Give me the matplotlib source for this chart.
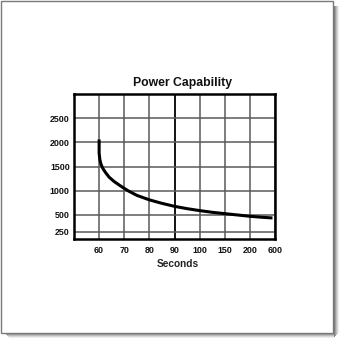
import numpy as np
import matplotlib
matplotlib.use("Agg")
import matplotlib.pyplot as plt
from matplotlib.patches import Rectangle

# ---- data ----
x_ticks = [60, 70, 80, 90, 100, 150, 200, 600]
x_tick_labels = ["60", "70", "80", "90", "100", "150", "200", "600"]
y_ticks = [250, 500, 1000, 1500, 2000, 2500]
y_tick_labels = ["250", "500", "1000", "1500", "2000", "2500"]
seconds = [60, 60, 60.3, 60.8, 61.5, 62.5, 64, 66, 68.5, 71.5, 75, 80, 85, 90, 95,
           100, 125, 150, 175, 200, 400, 560]
watts = [2060, 1780, 1640, 1540, 1460, 1380, 1280, 1190, 1100, 1000, 905, 812, 740,
         678, 630, 590, 555, 527, 500, 480, 465, 455]

# non-uniform axis scales as in the original drawing
x_breaks = [50, 60, 70, 80, 90, 100, 150, 200, 600]
x_pos = list(range(len(x_breaks)))
y_breaks = [0, 250, 500, 3000]
y_pos = [0, 7.3, 24, 144.7]


def fx(v):
    return np.interp(v, x_breaks, x_pos)


def ix(v):
    return np.interp(v, x_pos, x_breaks)


def fy(v):
    return np.interp(v, y_breaks, y_pos)


def iy(v):
    return np.interp(v, y_pos, y_breaks)


plt.rcParams['font.family'] = ['Liberation Sans', 'DejaVu Sans']
plt.rcParams['font.weight'] = 'bold'

W = H = 344
fig = plt.figure(figsize=(W / 100, H / 100), dpi=100)
fig.patch.set_facecolor('white')

# frame with a soft drop shadow
shades = ['0.50', '0.62', '0.74', '0.85', '0.93']
for i, g in enumerate(shades):
    fig.patches.append(Rectangle(((334 + i) / W, 1 - (337 - i) / H), 1 / W, (331 - i) / H,
                                 transform=fig.transFigure, facecolor=g, edgecolor='none'))
    fig.patches.append(Rectangle(((5 + i) / W, 1 - (334 + i) / H), (329 - i) / W, 1 / H,
                                 transform=fig.transFigure, facecolor=g, edgecolor='none'))
fig.patches.append(Rectangle((0.8 / W, 1 - 333 / H), 332.4 / W, 332.4 / H, transform=fig.transFigure,
                             facecolor='none', edgecolor='#7a7a7a', linewidth=1.0))

ax = fig.add_axes([74 / W, 1 - 239 / H, 201 / W, 145 / H])
ax.set_xscale('function', functions=(fx, ix))
ax.set_yscale('function', functions=(fy, iy))
ax.set_xlim(50, 600)
ax.set_ylim(0, 3000)

ax.plot(seconds, watts, color='black', linewidth=2.2, solid_capstyle='butt',
        solid_joinstyle='round', zorder=3)

ax.set_xticks(x_ticks)
ax.set_xticklabels(x_tick_labels)
ax.set_yticks(y_ticks)
ax.set_yticklabels(y_tick_labels)
ax.xaxis.set_minor_locator(matplotlib.ticker.NullLocator())
ax.yaxis.set_minor_locator(matplotlib.ticker.NullLocator())
ax.tick_params(axis='both', length=0, labelsize=6.4, colors='#111111')
ax.tick_params(axis='y', pad=3)
ax.tick_params(axis='x', pad=5)
for lab in ax.get_xticklabels() + ax.get_yticklabels():
    lab.set_fontweight('bold')

ax.grid(True, color='#5a5a5a', linewidth=1.1, zorder=1)
ax.set_axisbelow(True)
gl = ax.xaxis.get_gridlines()
gl[3].set_color('black')
gl[3].set_linewidth(1.3)

for s in ax.spines.values():
    s.set_linewidth(1.8)
    s.set_color('black')

fig.text(183 / W, 1 - 86 / H, "Power Capability", ha='center', va='baseline',
         fontsize=8.8, fontweight='bold', color='#111111')
fig.text(177.7 / W, 1 - 267.3 / H, "Seconds", ha='center', va='baseline',
         fontsize=7.3, fontweight='bold', color='#222222')

fig.savefig("out.png", dpi=100, facecolor='white')
